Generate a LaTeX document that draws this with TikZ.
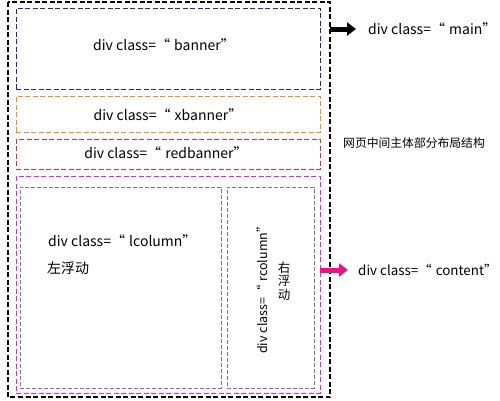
\documentclass[tikz,border=0pt]{standalone}
\usepackage{fontspec}
\setmainfont{Noto Sans CJK SC}
\usetikzlibrary{arrows.meta}
\definecolor{cblue}{HTML}{2020B0}
\definecolor{corange}{HTML}{FF8C1A}
\definecolor{cred}{HTML}{F02828}
\definecolor{cmag}{HTML}{FF10FF}
\definecolor{cgrey}{HTML}{7A7A7A}
\definecolor{cpink}{HTML}{F0108A}
\newcommand{\oq}{“\hspace{0.3em}}
\tikzset{
  box/.style={draw, dash pattern=on 5pt off 2.5pt, line width=1pt, inner sep=0pt},
  lbl/.style={font=\fontsize{14}{16}\selectfont, inner sep=0pt},
  fat/.style={line width=5pt, -{Triangle[length=9pt,width=13pt]}}
}
\begin{document}
\begin{tikzpicture}[x=1pt,y=-1pt]
\useasboundingbox (0,0) rectangle (500,400);
\fill[white] (0,0) rectangle (500,400);
% outer
\draw[box, black, line width=1.1pt] (8,2) rectangle (330,397);
\coordinate (outerE) at (330,29);
\coordinate (outerE2) at (320,270);
% banners
\node[box, cblue, minimum width=304pt, minimum height=81pt] (banner) at (168,48.5) {};
\node[lbl] (bannert) at (164,45) {div class=\oq banner”};
\node[box, corange, minimum width=304pt, minimum height=36pt] (xbanner) at (168,114) {};
\node[lbl] (xbannert) at (168,115) {div class=\oq xbanner”};
\node[box, cred, minimum width=304pt, minimum height=30pt] (redbanner) at (168,154) {};
\node[lbl] (redbannert) at (166,153) {div class=\oq redbanner”};
% content
\node[box, cmag, minimum width=304pt, minimum height=217pt] (content) at (168,284.5) {};
\node[box, cgrey, line width=0.7pt, dash pattern=on 4pt off 2pt, minimum width=201pt, minimum height=201pt] (lcol) at (120.5,287.5) {};
\node[box, cgrey, line width=0.7pt, dash pattern=on 4pt off 2pt, minimum width=87pt, minimum height=201pt] (rcol) at (270.5,287.5) {};
\node[lbl, anchor=west] (lcolt) at (48,241) {div class=\oq lcolumn”};
\node[lbl, anchor=west] (lcolz) at (47,268) {左浮动};
\node[lbl, rotate=90, font=\fontsize{12.5}{14}\selectfont] (rcolt) at (262,287) {div class=\oq rcolumn”};
\node[lbl, align=center, font=\fontsize{12.5}{13.5}\selectfont] (rcolz) at (284,281) {右\\浮\\动};
% right labels
\node[lbl, anchor=west] (mainlbl) at (368,29) {div class=\oq main”};
\node[lbl, anchor=west, font=\fontsize{11.8}{13}\selectfont] (note) at (343,143) {网页中间主体部分布局结构};
\node[lbl, anchor=west, font=\fontsize{13.4}{15}\selectfont] (contlbl) at (358,270) {div class=\oq content”};
\draw[fat, black] (outerE) -- ([xshift=-12pt]mainlbl.west);
\draw[fat, cpink] (outerE2) -- ([xshift=-10pt]contlbl.west);
\end{tikzpicture}
\end{document}
